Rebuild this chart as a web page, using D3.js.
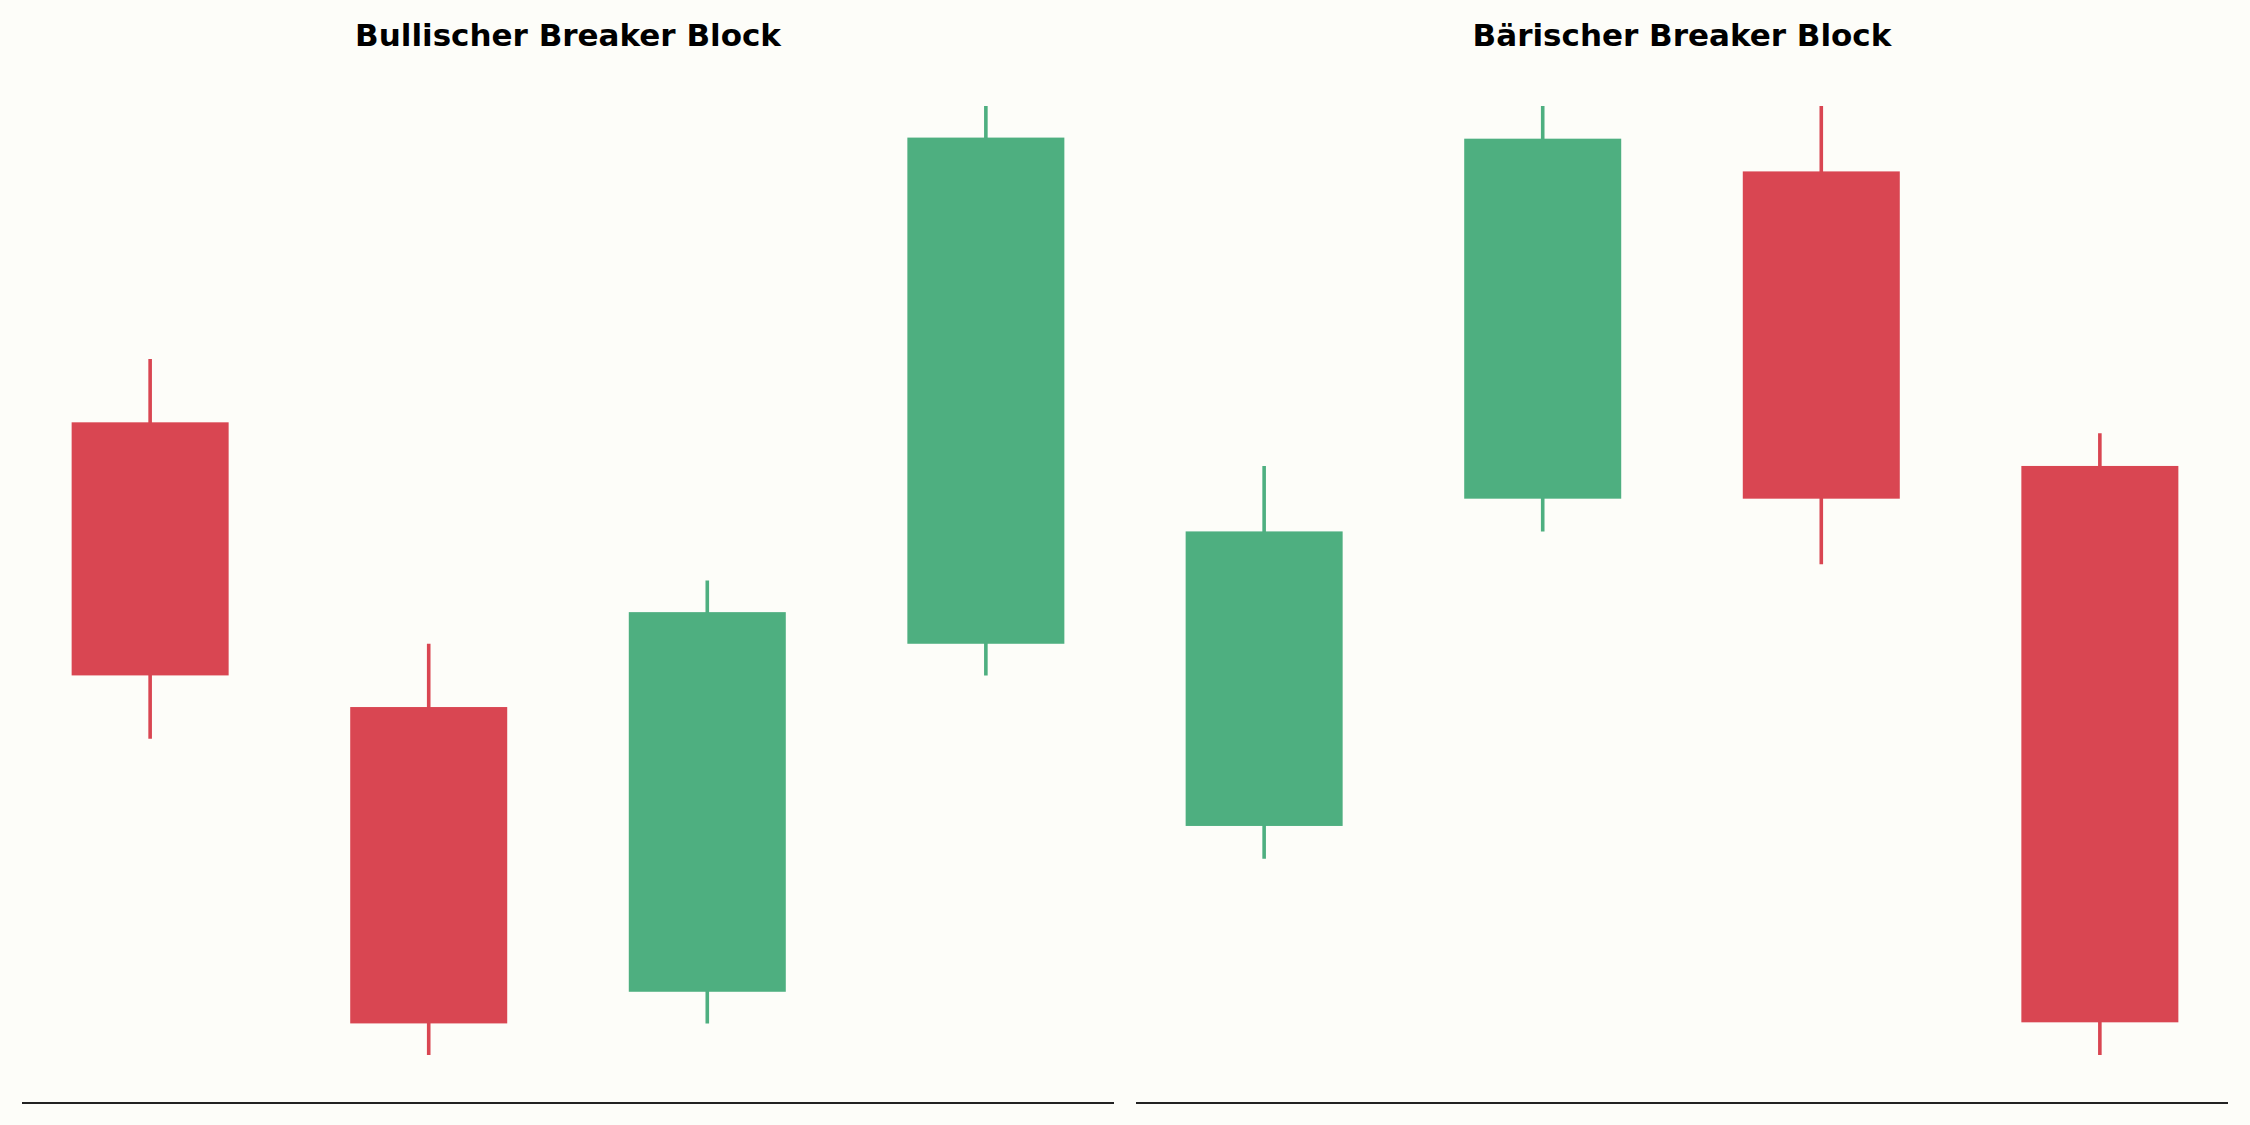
<!DOCTYPE html>
<html>
<head>
<meta charset="utf-8">
<script src="https://cdn.jsdelivr.net/npm/d3@7"></script>
<style>
  html, body { margin: 0; padding: 0; background: #fdfdf9; }
  svg { display: block; }
</style>
</head>
<body>
<svg class="chart" width="2250" height="1125"></svg>
<script>
// candles: open, high, low, close
const titles = ['Bullischer Breaker Block', 'Bärischer Breaker Block']

const bullOpen  = [120, 111, 102, 113]
const bullHigh  = [122, 113, 115, 130]
const bullLow   = [110, 100, 101, 112]
const bullClose = [112, 101, 114, 129]

const bearOpen  = [107, 117, 127, 118]
const bearHigh  = [118, 129, 129, 119]
const bearLow   = [106, 116, 115, 100]
const bearClose = [116, 128, 117, 101]

const up = '#4eaf80'
const down = '#d94652'

const W = 2250, H = 1125
const bodyW = 0.5636

const panels = [
  { title: titles[0], left: 22, right: 1114,
    candles: bullOpen.map((o, i) => ({ i, o, h: bullHigh[i], l: bullLow[i], c: bullClose[i] })) },
  { title: titles[1], left: 1136, right: 2228,
    candles: bearOpen.map((o, i) => ({ i, o, h: bearHigh[i], l: bearLow[i], c: bearClose[i] })) }
]

const svg = d3.select('.chart')
svg.append('rect').attr('width', W).attr('height', H).attr('fill', '#fdfdf9')

panels.forEach(p => {
  const n = p.candles.length
  const xSpan = (n - 1) + bodyW
  const xPad = xSpan * 0.05
  const x = d3.scaleLinear()
    .domain([-bodyW / 2 - xPad, n - 1 + bodyW / 2 + xPad])
    .range([p.left, p.right])

  const lo = d3.min(p.candles, d => d.l)
  const hi = d3.max(p.candles, d => d.h)
  const yPad = (hi - lo) * 0.05
  const y = d3.scaleLinear()
    .domain([lo - yPad, hi + yPad])
    .range([1102.5, 58.5])

  const g = svg.append('g')

  g.selectAll('line.wick')
    .data(p.candles)
    .join('line')
    .attr('class', 'wick')
    .attr('x1', d => x(d.i))
    .attr('x2', d => x(d.i))
    .attr('y1', d => y(d.h))
    .attr('y2', d => y(d.l))
    .attr('stroke', d => d.c >= d.o ? up : down)
    .attr('stroke-width', 3.6)

  g.selectAll('rect.body')
    .data(p.candles)
    .join('rect')
    .attr('class', 'body')
    .attr('x', d => x(d.i - bodyW / 2))
    .attr('width', d => x(d.i + bodyW / 2) - x(d.i - bodyW / 2))
    .attr('y', d => y(Math.max(d.o, d.c)))
    .attr('height', d => Math.abs(y(d.o) - y(d.c)))
    .attr('fill', d => d.c >= d.o ? up : down)

  // only the bottom spine is shown
  g.append('line')
    .attr('x1', p.left).attr('x2', p.right)
    .attr('y1', 1103).attr('y2', 1103)
    .attr('stroke', '#222')
    .attr('stroke-width', 2.2)

  g.append('text')
    .attr('x', (p.left + p.right) / 2)
    .attr('y', 46)
    .attr('text-anchor', 'middle')
    .attr('font-family', 'DejaVu Sans')
    .attr('font-weight', 'bold')
    .attr('font-size', 31)
    .attr('fill', '#000')
    .text(p.title)
})
</script>
</body>
</html>
